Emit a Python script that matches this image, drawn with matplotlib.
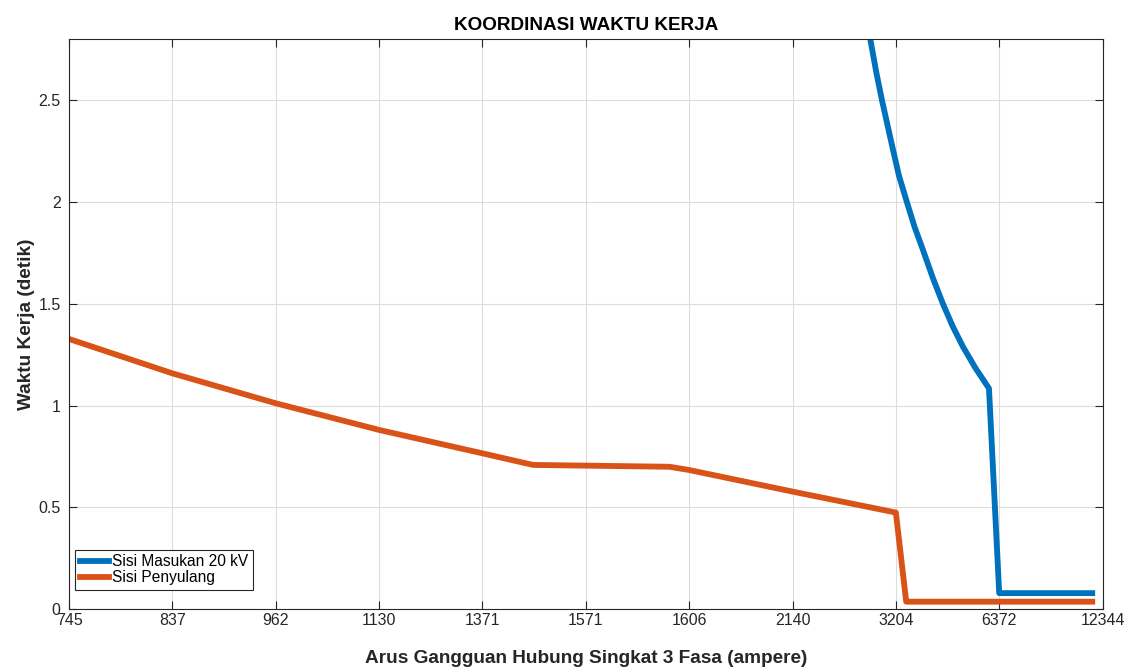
import numpy as np
import matplotlib
matplotlib.use('Agg')
import matplotlib.pyplot as plt

# label arus (ampere), diplot pada posisi indeks yang sama rata
tick_labels = ['745', '837', '962', '1130', '1371', '1571', '1606', '2140', '3204', '6372', '12344']

# Sisi Masukan 20 kV (posisi dalam satuan indeks tick)
masukan_x = [7.68, 7.753, 7.81, 7.866, 7.966, 8.03, 8.107, 8.18, 8.266, 8.36, 8.456, 8.55, 8.649, 8.77, 8.901, 9.00, 9.90]
masukan_y = [3.00, 2.80, 2.64, 2.50, 2.272, 2.13, 2.00, 1.88, 1.76, 1.625, 1.50, 1.39, 1.29, 1.185, 1.085, 0.079, 0.079]

# Sisi Penyulang
penyulang_x = [0.0, 1.0, 2.0, 3.0, 4.0, 4.49, 5.81, 6.0, 7.0, 8.0, 8.10, 9.90]
penyulang_y = [1.328, 1.159, 1.012, 0.881, 0.766, 0.709, 0.700, 0.684, 0.578, 0.475, 0.037, 0.037]

plt.rcParams['font.family'] = ['Liberation Sans', 'DejaVu Sans']

fig = plt.figure(figsize=(11.32, 6.68), dpi=100)
ax = fig.add_axes([0.061, 0.088, 0.913, 0.853])

ax.plot(masukan_x, masukan_y, color='#0072BD', linewidth=4.2, label='Sisi Masukan 20 kV')
ax.plot(penyulang_x, penyulang_y, color='#D95319', linewidth=4.2, label='Sisi Penyulang')

ax.set_xlim(0, 10)
ax.set_ylim(0, 2.8)
ax.set_xticks(np.arange(len(tick_labels)))
ax.set_xticklabels(tick_labels)
ax.set_yticks([0, 0.5, 1, 1.5, 2, 2.5])
ax.set_yticklabels(['0', '0.5', '1', '1.5', '2', '2.5'])

ax.grid(True, color='#dcdcdc', linewidth=0.8)
ax.set_axisbelow(True)
ax.tick_params(direction='in', top=True, right=True, length=6, width=0.8,
               labelsize=11.5, colors='#262626')
ax.tick_params(axis='x', pad=3)
ax.tick_params(axis='y', pad=6)
for s in ax.spines.values():
    s.set_color('#262626')
    s.set_linewidth(0.8)

ax.set_title('KOORDINASI WAKTU KERJA', fontsize=13.6, fontweight='bold', pad=7)
ax.set_xlabel('Arus Gangguan Hubung Singkat 3 Fasa (ampere)', fontsize=13.7, fontweight='bold',
              color='#262626')
ax.xaxis.set_label_coords(0.5, -0.071)
ax.xaxis.label.set_va('top')
ax.set_ylabel('Waktu Kerja (detik)', fontsize=13.7, fontweight='bold', color='#262626')
ax.yaxis.set_label_coords(-0.0415, 0.5)
ax.yaxis.label.set_va('center')

leg = ax.legend(loc='lower left', bbox_to_anchor=(0.0058, 0.034), fontsize=11.2, frameon=True,
                fancybox=False, framealpha=1, edgecolor='#262626', handlelength=1.9,
                handletextpad=0.2, borderpad=0.3, labelspacing=0.05, borderaxespad=0)
leg.get_frame().set_linewidth(0.8)

plt.savefig('out.png', dpi=100)
plt.close()
